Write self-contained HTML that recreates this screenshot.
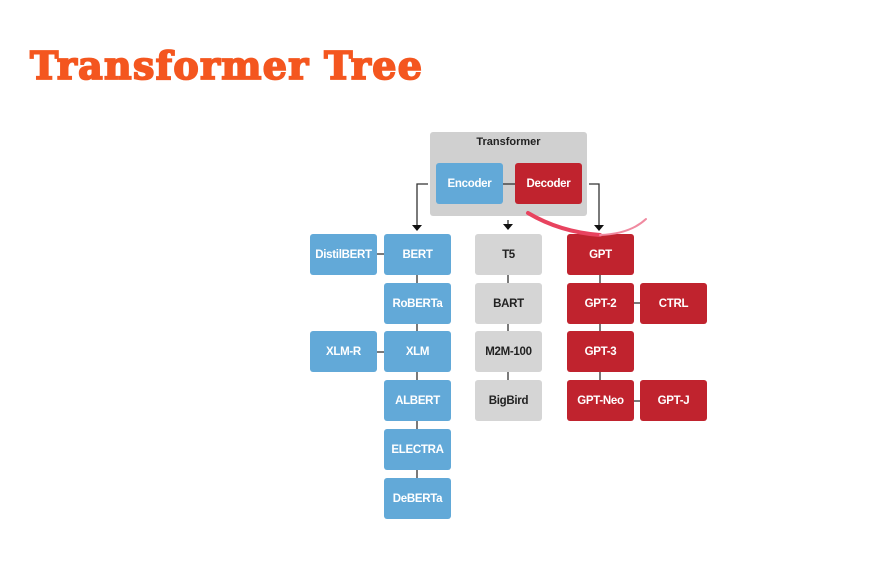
<!DOCTYPE html>
<html><head><meta charset="utf-8"><style>
body{margin:0;width:876px;height:574px;background:#fff;position:relative;overflow:hidden;font-family:"Liberation Sans",sans-serif}
.t{position:absolute;left:30px;top:47px;font-family:"DejaVu Serif",serif;font-weight:bold;font-size:38px;line-height:38px;color:#f4561f;letter-spacing:1.3px;white-space:nowrap;-webkit-text-stroke:1.8px #f4561f}
.b{position:absolute;width:67px;height:41px;border-radius:3px;display:flex;align-items:center;justify-content:center;font-size:11.5px;font-weight:bold;color:#fff;letter-spacing:-0.3px}
.bl{background:#62a9d8}.r{background:#c0232e}.g{background:#d5d5d5;color:#222}
svg{position:absolute;left:0;top:0}
</style></head><body>
<div class="t">Transformer Tree</div>
<div style="position:absolute;left:430px;top:132px;width:157px;height:84px;background:#d0d0d0;border-radius:3px"></div>
<div style="position:absolute;left:430px;top:136px;width:157px;text-align:center;font-size:11px;font-weight:bold;color:#222">Transformer</div>
<svg width="876" height="574">
<g stroke="#333" stroke-width="1.3" fill="none">
<line x1="502" y1="184" x2="515" y2="184"/>
<polyline points="428,184 417,184 417,226"/>
<polyline points="589,184 599,184 599,226"/>
<line x1="508" y1="220" x2="508" y2="226"/>
<line x1="377" y1="254" x2="384" y2="254"/>
<line x1="377" y1="352" x2="384" y2="352"/>
<line x1="417" y1="275" x2="417" y2="478"/>
<line x1="508" y1="275" x2="508" y2="380"/>
<line x1="600" y1="275" x2="600" y2="380"/>
<line x1="633" y1="303" x2="640" y2="303"/>
<line x1="633" y1="401" x2="640" y2="401"/>
</g>
<g fill="#111">
<polygon points="412,225 422,225 417,231"/>
<polygon points="503,224 513,224 508,230"/>
<polygon points="594,225 604,225 599,231"/>
</g>
</svg>
<div class="b bl" style="left:436px;top:163px;height:41px">Encoder</div>
<div class="b r" style="left:515px;top:163px">Decoder</div>
<div class="b bl" style="left:310px;top:234px">DistilBERT</div>
<div class="b bl" style="left:384px;top:234px">BERT</div>
<div class="b bl" style="left:384px;top:283px">RoBERTa</div>
<div class="b bl" style="left:310px;top:331px">XLM-R</div>
<div class="b bl" style="left:384px;top:331px">XLM</div>
<div class="b bl" style="left:384px;top:380px">ALBERT</div>
<div class="b bl" style="left:384px;top:429px">ELECTRA</div>
<div class="b bl" style="left:384px;top:478px">DeBERTa</div>
<div class="b g" style="left:475px;top:234px">T5</div>
<div class="b g" style="left:475px;top:283px">BART</div>
<div class="b g" style="left:475px;top:331px">M2M-100</div>
<div class="b g" style="left:475px;top:380px">BigBird</div>
<div class="b r" style="left:567px;top:234px">GPT</div>
<div class="b r" style="left:567px;top:283px">GPT-2</div>
<div class="b r" style="left:640px;top:283px">CTRL</div>
<div class="b r" style="left:567px;top:331px">GPT-3</div>
<div class="b r" style="left:567px;top:380px">GPT-Neo</div>
<div class="b r" style="left:640px;top:380px">GPT-J</div>
<svg width="876" height="574"><path d="M528,213 Q560,232 600,235" stroke="#e8435f" stroke-width="4" fill="none" stroke-linecap="round"/><path d="M600,235 Q630,234 646,219" stroke="#f08aa0" stroke-width="2" fill="none" stroke-linecap="round"/></svg>
</body></html>
